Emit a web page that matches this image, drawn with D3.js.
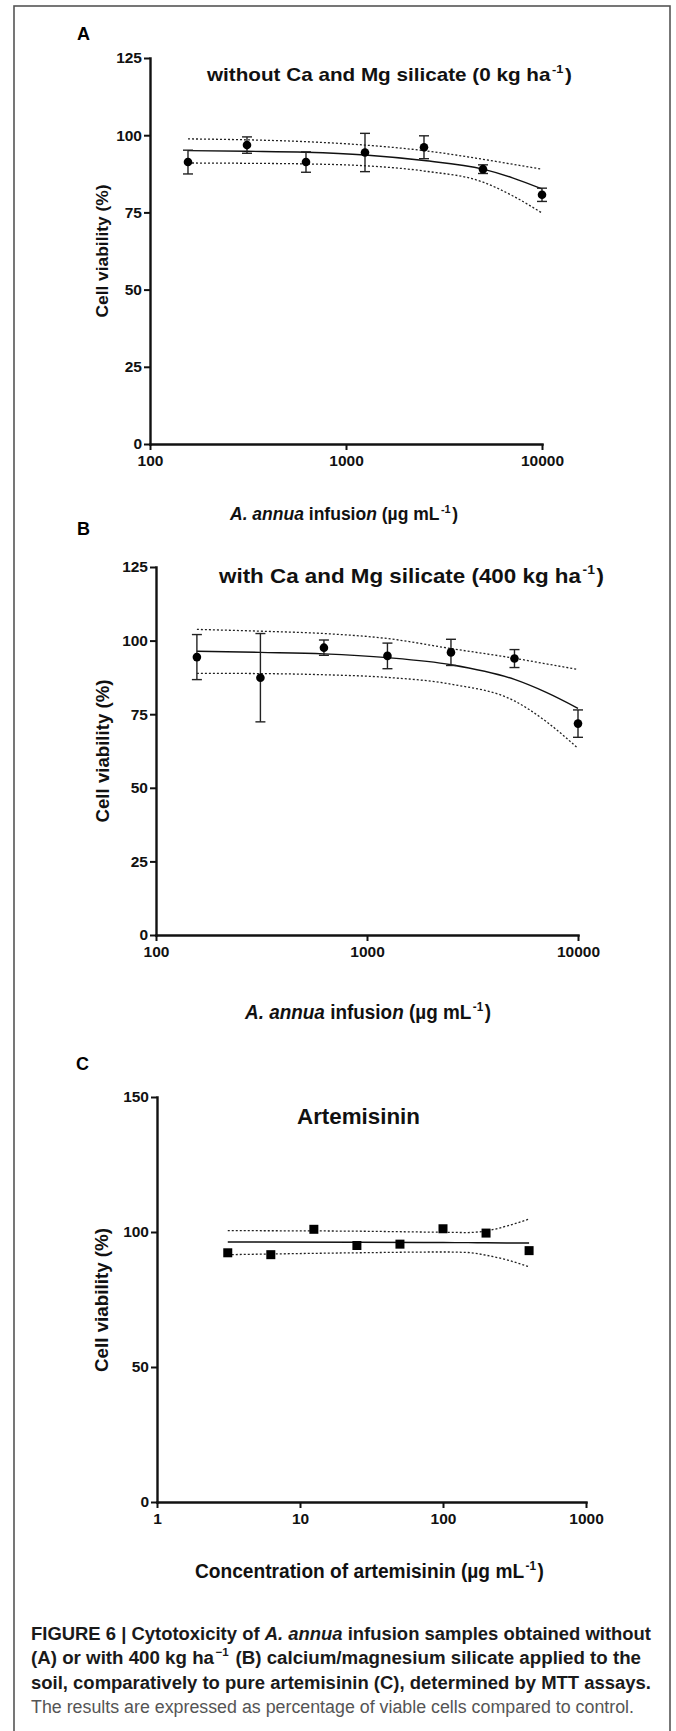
<!DOCTYPE html>
<html>
<head>
<meta charset="utf-8">
<script src="https://cdn.jsdelivr.net/npm/d3@7"></script>
<style>
  body { margin: 0; background: #fff; }
  svg { display: block; font-family: "Liberation Sans", Arial, sans-serif; }
</style>
</head>
<body>
<svg id="fig" width="676" height="1731"></svg>
<script>
// infusion doses (µg/mL), panels A and B
var doseInfusion = [156.25, 312.5, 625, 1250, 2500, 5000, 10000];
var viabilityA = [91.3, 96.8, 91.3, 94.4, 96.1, 89.0, 80.7];
var errorA = [3.85, 2.65, 3.3, 6.2, 3.7, 1.4, 2.15];
var viabilityB = [94.4, 87.4, 97.6, 94.8, 96.0, 93.9, 71.8];
var errorB = [7.65, 15.0, 2.6, 4.35, 4.45, 3.05, 4.65];

// fitted curve and 95% band
var fitDose = [156.25, 312.5, 625, 1250, 2500, 5000, 7071, 10000];
var fitA = [95.0, 94.8, 94.5, 93.6, 91.8, 89.0, 86.2, 82.6];
var upperA = [98.8, 98.5, 97.9, 96.8, 95.0, 92.2, 90.6, 89.0];
var lowerA = [91.0, 90.9, 90.7, 90.1, 88.4, 84.8, 80.4, 74.8];
var fitB = [96.4, 96.0, 95.5, 94.2, 91.8, 86.8, 82.4, 77.0];
var upperB = [103.8, 103.2, 102.4, 100.7, 97.3, 94.0, 92.1, 90.2];
var lowerB = [88.9, 88.8, 88.4, 87.5, 85.2, 79.5, 72.5, 63.4];

// artemisinin, panel C
var doseArt = [3.125, 6.25, 12.5, 25, 50, 100, 200, 400];
var viabilityC = [92.3, 91.6, 101.0, 95.0, 95.5, 101.2, 99.6, 93.1];
var bandDoseC = [3.125, 25, 100, 150, 200, 283, 400];
var fitC = [96.3, 96.2, 96.1, 96.05, 96.0, 95.95, 95.9];
var upperC = [100.5, 100.3, 99.9, 99.8, 100.4, 102.3, 104.8];
var lowerC = [91.6, 92.3, 92.6, 92.4, 91.4, 89.6, 87.1];

var yTicksAB = [0, 25, 50, 75, 100, 125];
var yTicksC = [0, 50, 100, 150];
var xTicksAB = [100, 1000, 10000];
var xTicksC = [1, 10, 100, 1000];

var svg = d3.select("#fig");

svg.append("rect")
    .attr("x", 14).attr("y", 6)
    .attr("width", 656).attr("height", 1760)
    .attr("fill", "none")
    .attr("stroke", "#555")
    .attr("stroke-width", 1.6);

function zip(xs, ys) {
    return xs.map(function (d, i) { return [d, ys[i]]; });
}

function panel(o) {
    var g = svg.append("g");
    var x = d3.scaleLog().domain(o.xDomain).range(o.xRange);
    var y = d3.scaleLinear().domain(o.yDomain).range(o.yRange);

    var xAxis = g.append("g")
        .attr("transform", "translate(0," + o.yRange[0] + ")")
        .call(d3.axisBottom(x).tickValues(o.xTicks).tickFormat(d3.format("d"))
            .tickSize(6).tickSizeOuter(0).tickPadding(5));
    var yAxis = g.append("g")
        .attr("transform", "translate(" + o.xRange[0] + ",0)")
        .call(d3.axisLeft(y).tickValues(o.yTicks).tickSize(6).tickSizeOuter(0).tickPadding(2));

    [xAxis, yAxis].forEach(function (a) {
        a.select(".domain").attr("stroke", "#111").attr("stroke-width", 2.4).attr("stroke-linecap", "square");
        a.selectAll(".tick line").attr("stroke", "#111").attr("stroke-width", 2);
        a.selectAll(".tick text")
            .attr("fill", "#111")
            .style("font-size", "15.5px")
            .style("font-weight", "bold");
    });

    var line = d3.line()
        .x(function (d) { return x(d[0]); })
        .y(function (d) { return y(d[1]); })
        .curve(d3.curveMonotoneX);

    [o.upper, o.lower].forEach(function (band) {
        g.append("path")
            .attr("d", line(zip(o.bandX, band)))
            .attr("fill", "none")
            .attr("stroke", "#222")
            .attr("stroke-width", 1.3)
            .attr("stroke-dasharray", "2,2");
    });
    g.append("path")
        .attr("d", line(zip(o.bandX, o.fit)))
        .attr("fill", "none")
        .attr("stroke", "#111")
        .attr("stroke-width", 1.4);

    if (o.err) {
        var eb = g.selectAll(".eb").data(o.doses).enter().append("g");
        eb.append("line")
            .attr("x1", function (d) { return x(d); })
            .attr("x2", function (d) { return x(d); })
            .attr("y1", function (d, i) { return y(o.values[i] + o.err[i]); })
            .attr("y2", function (d, i) { return y(o.values[i] - o.err[i]); });
        [1, -1].forEach(function (s) {
            eb.append("line")
                .attr("x1", function (d) { return x(d) - 5; })
                .attr("x2", function (d) { return x(d) + 5; })
                .attr("y1", function (d, i) { return y(o.values[i] + s * o.err[i]); })
                .attr("y2", function (d, i) { return y(o.values[i] + s * o.err[i]); });
        });
        eb.selectAll("line").attr("stroke", "#222").attr("stroke-width", 1.4);

        g.selectAll(".pt").data(o.doses).enter().append("circle")
            .attr("cx", function (d) { return x(d); })
            .attr("cy", function (d, i) { return y(o.values[i]); })
            .attr("r", 4.3)
            .attr("fill", "#000");
    } else {
        g.selectAll(".pt").data(o.doses).enter().append("rect")
            .attr("x", function (d) { return x(d) - 4.5; })
            .attr("y", function (d, i) { return y(o.values[i]) - 4.5; })
            .attr("width", 9).attr("height", 9)
            .attr("fill", "#000");
    }
    return g;
}

function label(txt, x, y, size) {
    svg.append("text").attr("x", x).attr("y", y)
        .style("font-size", size + "px").style("font-weight", "bold")
        .attr("fill", "#000").text(txt);
}

function yTitle(cx, cy, len, size) {
    svg.append("text")
        .attr("transform", "translate(" + cx + "," + cy + ") rotate(-90)")
        .attr("text-anchor", "middle")
        .attr("dy", "0.36em")
        .attr("textLength", len).attr("lengthAdjust", "spacingAndGlyphs")
        .style("font-size", size + "px").style("font-weight", "bold")
        .attr("fill", "#111")
        .text("Cell viability (%)");
}

// parts: [text, italic, superscript]
function rich(parts, x, y, len, size, weight, color) {
    var t = svg.append("text").attr("x", x).attr("y", y)
        .attr("textLength", len).attr("lengthAdjust", "spacingAndGlyphs")
        .style("font-size", size + "px").style("font-weight", weight || "bold")
        .attr("fill", color || "#111");
    var raised = false;
    parts.forEach(function (p) {
        var s = t.append("tspan").text(p[0]);
        if (p[1]) s.style("font-style", "italic");
        if (p[2]) {
            s.attr("dx", 1.5).attr("dy", -size * 0.42).style("font-size", (size * 0.62) + "px");
            raised = true;
        } else if (raised) {
            s.attr("dx", 1.5).attr("dy", size * 0.42);
            raised = false;
        }
    });
}

// panel A
label("A", 77, 40, 18);
panel({
    xDomain: [100, 10000], xRange: [150, 542],
    yDomain: [0, 125], yRange: [444, 58],
    xTicks: xTicksAB, yTicks: yTicksAB,
    doses: doseInfusion, values: viabilityA, err: errorA,
    bandX: fitDose, fit: fitA, upper: upperA, lower: lowerA
});
rich([["without Ca and Mg silicate (0 kg ha"], ["-1", false, true], [")"]], 207, 81, 365, 19);
yTitle(102, 251, 133, 17);
rich([["A. annua", true], [" infusio"], ["n", true], [" (µg mL"], ["-1", false, true], [")"]], 230, 520, 228, 17.5);

// panel B
label("B", 77, 535, 18);
panel({
    xDomain: [100, 10000], xRange: [156, 578],
    yDomain: [0, 125], yRange: [935, 567],
    xTicks: xTicksAB, yTicks: yTicksAB,
    doses: doseInfusion, values: viabilityB, err: errorB,
    bandX: fitDose, fit: fitB, upper: upperB, lower: lowerB
});
rich([["with Ca and Mg silicate (400 kg ha"], ["-1", false, true], [")"]], 219, 583, 385, 20.5);
yTitle(102, 751, 143, 18.5);
rich([["A. annua", true], [" infusio"], ["n", true], [" (µg mL"], ["-1", false, true], [")"]], 245, 1019, 246, 19.5);

// panel C
label("C", 76, 1070, 18);
panel({
    xDomain: [1, 1000], xRange: [157, 586],
    yDomain: [0, 150], yRange: [1502, 1097],
    xTicks: xTicksC, yTicks: yTicksC,
    doses: doseArt, values: viabilityC, err: null,
    bandX: bandDoseC, fit: fitC, upper: upperC, lower: lowerC
});
rich([["Artemisinin"]], 297, 1124, 123, 22);
yTitle(101, 1300, 144, 18.5);
rich([["Concentration of artemisinin (µg mL"], ["-1", false, true], [")"]], 195, 1578, 349, 19.5);

// caption
rich([["FIGURE 6 | Cytotoxicity of "], ["A. annua", true], [" infusion samples obtained without"]], 31, 1640, 620, 18, "bold", "#1a1a1a");
rich([["(A) or with 400 kg ha"], ["\u22121", false, true], [" (B) calcium/magnesium silicate applied to the"]], 31, 1664, 610, 18, "bold", "#1a1a1a");
rich([["soil, comparatively to pure artemisinin (C), determined by MTT assays."]], 31, 1689, 620, 18, "bold", "#1a1a1a");
rich([["The results are expressed as percentage of viable cells compared to control."]], 31, 1713, 603, 18, "normal", "#555");
</script>
</body>
</html>
